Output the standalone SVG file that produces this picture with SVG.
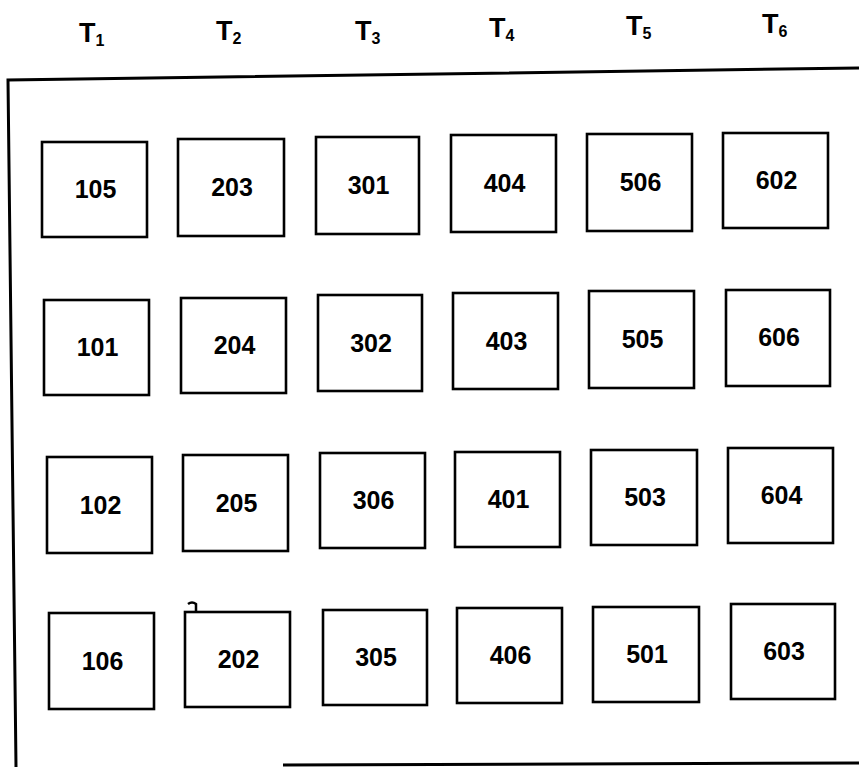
<svg xmlns="http://www.w3.org/2000/svg" width="859" height="767" viewBox="0 0 859 767">
<style>
  .box rect { fill: #fff; stroke: #000; stroke-width: 2.6; }
  .box text { font-family: "Liberation Sans", Arial, sans-serif; font-weight: bold; font-size: 25px; text-anchor: middle; fill: #000; }
  .hdr { font-family: "Liberation Sans", Arial, sans-serif; font-weight: bold; font-size: 27px; fill: #000; }
  .hdr tspan { font-size: 16px; }
  .frame { fill: none; stroke: #000; stroke-width: 3; }
</style>
<rect width="859" height="767" fill="#fff"/>
<g id="frame">
  <polyline class="frame" points="859,68 8,80 16,767"/>
  <line class="frame" x1="283" y1="765" x2="859" y2="763"/>
  <path d="M188,604 q4,-3 8,0 l0,12" fill="none" stroke="#000" stroke-width="2.5"/>
</g>
<g id="headers">
  <text class="hdr" x="79" y="42">T<tspan dy="4">1</tspan></text>
  <text class="hdr" x="216" y="40">T<tspan dy="4">2</tspan></text>
  <text class="hdr" x="355" y="40">T<tspan dy="4">3</tspan></text>
  <text class="hdr" x="489" y="37">T<tspan dy="4">4</tspan></text>
  <text class="hdr" x="626" y="35">T<tspan dy="4">5</tspan></text>
  <text class="hdr" x="762" y="33">T<tspan dy="4">6</tspan></text>
</g>
<g id="connectors"></g>
<g id="n105" class="box"><rect x="42" y="142" width="105" height="95"/><text x="95.5" y="198">105</text></g>
<g id="n203" class="box"><rect x="178" y="139" width="106" height="97"/><text x="232" y="196">203</text></g>
<g id="n301" class="box"><rect x="316" y="137" width="103" height="97"/><text x="368.5" y="194">301</text></g>
<g id="n404" class="box"><rect x="451" y="135" width="105" height="97"/><text x="504.5" y="192">404</text></g>
<g id="n506" class="box"><rect x="587" y="134" width="105" height="97"/><text x="640.5" y="191">506</text></g>
<g id="n602" class="box"><rect x="723" y="133" width="105" height="95"/><text x="776.5" y="188.5">602</text></g>

<g id="n101" class="box"><rect x="44" y="300" width="105" height="95"/><text x="97.5" y="356">101</text></g>
<g id="n204" class="box"><rect x="181" y="298" width="105" height="95"/><text x="234.5" y="354">204</text></g>
<g id="n302" class="box"><rect x="318" y="295" width="104" height="96"/><text x="371" y="352">302</text></g>
<g id="n403" class="box"><rect x="453" y="293" width="105" height="96"/><text x="506.5" y="350">403</text></g>
<g id="n505" class="box"><rect x="589" y="291" width="105" height="97"/><text x="642.5" y="348">505</text></g>
<g id="n606" class="box"><rect x="726" y="290" width="104" height="96"/><text x="779" y="346">606</text></g>

<g id="n102" class="box"><rect x="47" y="457" width="105" height="96"/><text x="100.5" y="514">102</text></g>
<g id="n205" class="box"><rect x="183" y="455" width="105" height="96"/><text x="236.5" y="512">205</text></g>
<g id="n306" class="box"><rect x="320" y="453" width="105" height="95"/><text x="373.5" y="509">306</text></g>
<g id="n401" class="box"><rect x="455" y="452" width="105" height="95"/><text x="508.5" y="508">401</text></g>
<g id="n503" class="box"><rect x="591" y="450" width="106" height="95"/><text x="645" y="506">503</text></g>
<g id="n604" class="box"><rect x="728" y="448" width="105" height="95"/><text x="781.5" y="504">604</text></g>

<g id="n106" class="box"><rect x="49" y="613" width="105" height="96"/><text x="102.5" y="670">106</text></g>
<g id="n202" class="box"><rect x="185" y="612" width="105" height="95"/><text x="238.5" y="668">202</text></g>
<g id="n305" class="box"><rect x="323" y="610" width="104" height="95"/><text x="376" y="666">305</text></g>
<g id="n406" class="box"><rect x="457" y="608" width="105" height="95"/><text x="510.5" y="664">406</text></g>
<g id="n501" class="box"><rect x="593" y="607" width="106" height="95"/><text x="647" y="663">501</text></g>
<g id="n603" class="box"><rect x="731" y="604" width="104" height="95"/><text x="784" y="660">603</text></g>
</svg>
